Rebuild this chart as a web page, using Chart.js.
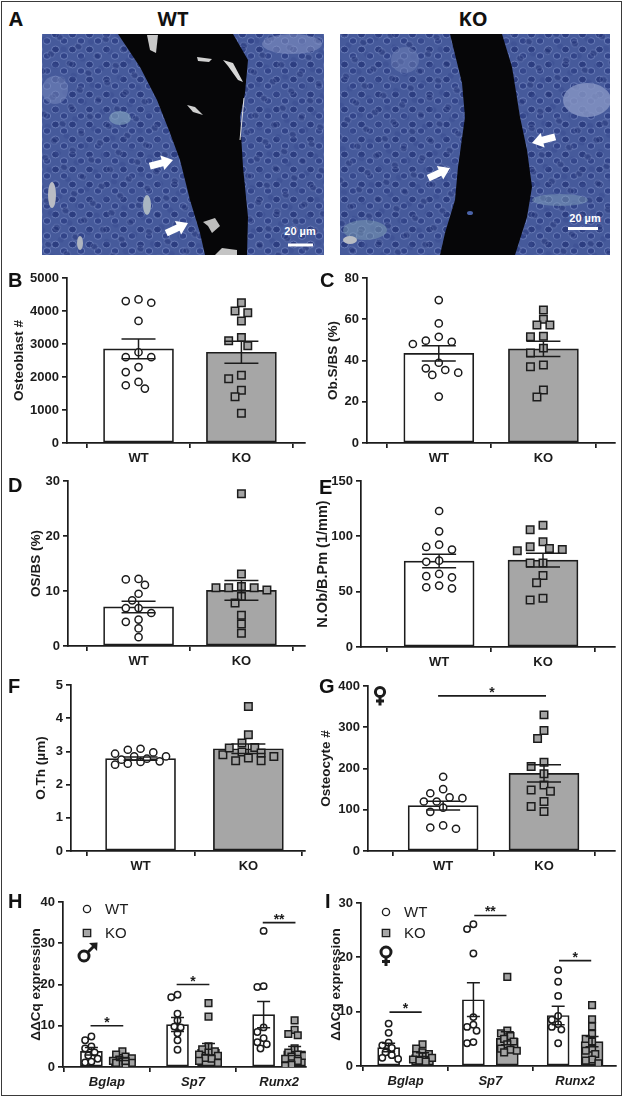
<!DOCTYPE html>
<html>
<head>
<meta charset="utf-8">
<script src="https://cdn.jsdelivr.net/npm/chart.js@4.4.1/dist/chart.umd.min.js"></script>
<style>
  body { margin: 0; background: #fff; }
  #fig { position: relative; width: 624px; height: 1098px; overflow: hidden; }
  #frame { position: absolute; left: 1px; top: 1px; width: 619px; height: 1093px; border: 1.5px solid #3a3a3a; }
  .abs { position: absolute; }
  .letter { position: absolute; font: bold 20px "Liberation Sans", Arial, sans-serif; line-height: 20px; color: #111; }
  .head { position: absolute; font: bold 20px "Open Sans", sans-serif; line-height: 20px; color: #111; }
</style>
</head>
<body>
<div id="fig">
  <div id="frame"></div>
  <div class="head" style="left:9px;top:9px">A</div>
  <div class="head" style="left:173px;top:9px;transform:translateX(-50%)">WT</div>
  <div class="head" style="left:473px;top:9px;transform:translateX(-50%)">KO</div>
  <div id="micro"></div>

  <canvas id="pB" class="abs"></canvas>
  <canvas id="pC" class="abs"></canvas>
  <canvas id="pD" class="abs"></canvas>
  <canvas id="pE" class="abs"></canvas>
  <canvas id="pF" class="abs"></canvas>
  <canvas id="pG" class="abs"></canvas>
  <canvas id="pH" class="abs"></canvas>
  <canvas id="pI" class="abs"></canvas>

  <div class="letter" style="left:8px;top:270px">B</div>
  <div class="letter" style="left:320px;top:270px">C</div>
  <div class="letter" style="left:8px;top:475px">D</div>
  <div class="letter" style="left:319px;top:477px">E</div>
  <div class="letter" style="left:8px;top:676px">F</div>
  <div class="letter" style="left:319px;top:676px">G</div>
  <div class="letter" style="left:8px;top:891px">H</div>
  <div class="letter" style="left:325px;top:891px">I</div>
</div>

<script>
// ---- data ----
const groups = ['WT', 'KO'];
const genes = ['Bglap', 'Sp7', 'Runx2'];

// B: osteoblast number
const obNumWT = [4300, 4350, 4250, 3700, 2750, 2600, 2600, 2300, 2150, 1850, 1750, 1650];
const obNumKO = [4250, 4000, 3950, 3700, 3100, 3200, 2950, 2050, 1950, 1600, 1400, 900];
const obNumMean = [2850, 2750];
const obNumSem = [300, 330];

// C: Ob.S/BS (%)
const obsWT = [69.3, 58, 49.6, 51.5, 48, 49.1, 38.9, 36.2, 34.1, 33, 35.4, 22.5];
const obsKO = [64.5, 60, 57.2, 57.2, 51.5, 51.8, 46, 43.6, 37, 37.8, 25.7, 22.3];
const obsMean = [43.5, 45.6];
const obsSem = [3.7, 3.7];

// D: OS/BS (%)
const osWT = [12.1, 11.1, 12.2, 9.5, 8.3, 6.9, 6.0, 6.9, 4.8, 4.4, 3.2, 1.6];
const osKO = [27.7, 13.1, 10.6, 10.6, 10.6, 10.8, 10.2, 9.0, 7.8, 5.6, 4.0, 2.3];
const osMean = [7.1, 10.1];
const osSem = [1.05, 1.8];

// E: N.Ob/B.Pm (1/mm)
const nobWT = [122.9, 104.5, 90.4, 92.5, 88, 78, 77, 66, 63, 64, 55.5, 54, 53];
const nobKO = [110, 106, 95, 87, 89, 90.5, 88, 76, 76, 64.5, 58, 42.5, 44];
const nobMean = [77.7, 78.5];
const nobSem = [6, 6.2];

// F: O.Th (um)
const othWT = [2.85, 2.63, 3.05, 2.78, 3.08, 2.68, 2.97, 2.75, 2.85, 2.6, 2.93, 2.7];
const othKO = [2.98, 2.72, 3.12, 2.9, 4.35, 3.5, 3.1, 2.8, 3.25, 2.85, 2.95, 2.72];
const othMean = [2.78, 3.08];
const othSem = [0.05, 0.14];

// G: osteocyte number (female)
const ocyWT = [180, 150, 140, 130, 128, 120, 120, 105, 95, 62, 57, 54];
const ocyKO = [330, 292, 273, 215, 205, 187, 160, 145, 148, 120, 108, 96];
const ocyMean = [110, 188];
const ocySem = [10.5, 21];
const ocySig = [376];

// H: qPCR, male
const mBglapWT = [7.4, 6.5, 5, 4.5, 3.5, 2.8, 2, 1.1, 1.3];
const mBglapKO = [3.8, 3, 2.5, 2.1, 1.8, 1.5, 1.3, 1, 0.8, 0.6, 1.5, 1];
const mSp7WT = [17.5, 16.9, 12.9, 11.3, 9.8, 9.6, 8.2, 6.5, 4.2];
const mSp7KO = [15.5, 12.2, 5, 4.3, 3.8, 3.5, 3, 2.7, 2.2, 2, 1.5, 1];
const mRunx2WT = [33, 19.4, 19.6, 9.6, 8.5, 7, 6, 5.5, 4.5];
const mRunx2KO = [11.3, 9, 8, 7.7, 4.5, 3.5, 3, 2.7, 2.5, 2, 1.5, 0.5, 0.3];
const maleWTMean = [3.8, 10.3, 12.7];
const maleWTSem = [0.9, 1.7, 3.2];
const maleKOMean = [1.9, 4.3, 3.9];
const maleKOSem = [0.3, 1.4, 1.1];
const maleSig = [10, 20, 35];
const maleSigLabel = ['*', '*', '**'];

// I: qPCR, female
const fBglapWT = [7.8, 6.1, 4.3, 3.8, 3.3, 2.5, 2, 1.5, 1.3];
const fBglapKO = [4, 3.2, 2.5, 2.2, 2, 1.8, 1.5, 1.2, 1, 0.8];
const fSp7WT = [25.2, 26.1, 20.7, 9, 7.6, 7.2, 6.5, 4.4, 4.2];
const fSp7KO = [16.4, 6.5, 6, 5.5, 5, 4.5, 4, 3.2, 3, 2.8, 2.5];
const fRunx2WT = [17.7, 15.5, 12.9, 9.2, 8.5, 7.7, 7.2, 6.7, 4.2];
const fRunx2KO = [11.2, 8.6, 7.3, 5.9, 5, 4.5, 3.2, 2.8, 2.2, 1.2, 1, 0.5];
const femWTMean = [3.4, 12.2, 9.3];
const femWTSem = [0.8, 3.1, 1.7];
const femKOMean = [2.1, 5.1, 4.5];
const femKOSem = [0.35, 1.2, 0.95];
const femSig = [9.9, 27.7, 19.4];
const femSigLabel = ['*', '**', '*'];

// ---- styling ----
const INK = '#1c1c1c';
const KO_GREY = '#a6a6a6';
const FONT = '"Liberation Sans", Arial, Helvetica, sans-serif';
const LW = 1.7;

Chart.defaults.font.family = FONT;
Chart.defaults.font.size = 13;
Chart.defaults.font.weight = 'bold';
Chart.defaults.color = INK;
Chart.defaults.animation = false;

const WT_STYLE = { fill: '#ffffff', marker: 'circle', pointFill: '#ffffff' };
const KO_STYLE = { fill: KO_GREY, marker: 'rect', pointFill: '#a3a3a3' };

// simple beeswarm: push points sideways (in steps) until they stop overlapping,
// but never further than maxOff; if it gets crowded, take the roomiest spot
function swarm(vals, pxPerUnit, d, step, maxOff) {
  const placed = [], off = [];
  const order = vals.map((v, i) => i).sort((a, b) => vals[b] - vals[a]);
  order.forEach(i => {
    const py = vals[i] * pxPerUnit;
    let best = 0, bestGap = -1;
    for (let k = 0; k < 200; k++) {
      const px = (k % 2 ? -1 : 1) * Math.ceil(k / 2) * step;
      if (Math.abs(px) > maxOff) break;
      const gap = placed.reduce((g, q) => Math.min(g, Math.hypot(q.x - px, q.y - py)), Infinity);
      if (gap >= d) { best = px; break; }
      if (gap > bestGap + 0.5) { bestGap = gap; best = px; }
    }
    placed.push({ x: best, y: py });
    off[i] = best;
  });
  return off;
}

const errorBars = {
  id: 'errorBars',
  afterDatasetsDraw(chart) {
    const ctx = chart.ctx, y = chart.scales.y;
    chart.data.datasets.forEach((ds, di) => {
      if (!ds.sem) return;
      chart.getDatasetMeta(di).data.forEach((bar, k) => {
        const m = ds.data[k].y, s = ds.sem[k], hw = ds.capWidth / 2, x = bar.x;
        const yt = y.getPixelForValue(m + s), yb = y.getPixelForValue(Math.max(0, m - s));
        ctx.save();
        ctx.strokeStyle = INK;
        ctx.lineWidth = 1.5;
        ctx.beginPath();
        ctx.moveTo(x, yt); ctx.lineTo(x, yb);
        ctx.moveTo(x - hw, yt); ctx.lineTo(x + hw, yt);
        ctx.moveTo(x - hw, yb); ctx.lineTo(x + hw, yb);
        ctx.stroke();
        ctx.restore();
      });
    });
  }
};

// sex symbols drawn as strokes so they come out heavy like the original
function female(ctx, cx, cy, r) {
  ctx.lineWidth = 3;
  ctx.beginPath(); ctx.arc(cx, cy, r, 0, Math.PI * 2); ctx.stroke();
  ctx.beginPath();
  ctx.moveTo(cx, cy + r); ctx.lineTo(cx, cy + r + 9);
  ctx.moveTo(cx - 4, cy + r + 4.5); ctx.lineTo(cx + 4, cy + r + 4.5);
  ctx.stroke();
}
function male(ctx, cx, cy, r) {
  const e = r * Math.SQRT1_2, tx = cx + e + 9, ty = cy - e - 9;
  ctx.lineWidth = 3;
  ctx.beginPath(); ctx.arc(cx, cy, r, 0, Math.PI * 2); ctx.stroke();
  ctx.beginPath(); ctx.moveTo(cx + e, cy - e); ctx.lineTo(tx - 2, ty + 2); ctx.stroke();
  ctx.beginPath(); ctx.moveTo(tx + 1, ty - 1); ctx.lineTo(tx - 7.5, ty - 0.5); ctx.lineTo(tx + 0.5, ty + 7.5); ctx.closePath(); ctx.fill();
}

function marks(p) {
  return {
    id: 'marks',
    afterDraw(chart) {
      const { ctx, chartArea: a } = chart;
      const x = chart.scales.x, y = chart.scales.y;
      ctx.save();
      ctx.strokeStyle = INK;
      ctx.fillStyle = INK;
      ctx.lineWidth = LW;
      (p.sig || []).forEach(s => {
        const x1 = x.getPixelForValue(s.from), x2 = x.getPixelForValue(s.to);
        const yy = y.getPixelForValue(s.y);
        ctx.beginPath(); ctx.moveTo(x1, yy); ctx.lineTo(x2, yy); ctx.stroke();
        ctx.font = 'bold 14px ' + FONT;
        ctx.textAlign = 'center';
        ctx.textBaseline = 'alphabetic';
        ctx.fillText(s.label, (x1 + x2) / 2, yy + 1);
      });
      if (p.legend) {
        const lx = a.left + p.legend.dx, ly = a.top + p.legend.dy;
        ctx.lineWidth = 1.3;
        ctx.fillStyle = '#fff';
        ctx.beginPath(); ctx.arc(lx, ly, 3.6, 0, Math.PI * 2); ctx.fill(); ctx.stroke();
        ctx.fillStyle = KO_GREY;
        ctx.beginPath(); ctx.rect(lx - 3.7, ly + p.legend.gap - 3.7, 7.4, 7.4); ctx.fill(); ctx.stroke();
        ctx.fillStyle = INK;
        ctx.font = '15px ' + FONT;
        ctx.textAlign = 'left';
        ctx.textBaseline = 'middle';
        ctx.fillText(groups[0], lx + 18, ly + 1);
        ctx.fillText(groups[1], lx + 18, ly + p.legend.gap + 1);
      }
      if (p.sex) {
        ctx.fillStyle = INK;
        ctx.strokeStyle = INK;
        (p.sex.glyph === 'male' ? male : female)(ctx, a.left + p.sex.dx, a.top + p.sex.dy, p.sex.r);
      }
      ctx.restore();
    }
  };
}

function pair(means, sems, wt, ko) {
  return [
    Object.assign({ at: [0], shift: 0, means: [means[0]], sems: [sems[0]], points: [wt] }, WT_STYLE),
    Object.assign({ at: [1], shift: 0, means: [means[1]], sems: [sems[1]], points: [ko] }, KO_STYLE)
  ];
}

function trio(wtMean, wtSem, koMean, koSem, wtPts, koPts, shift) {
  return [
    Object.assign({ at: [0, 1, 2], shift: -shift, means: wtMean, sems: wtSem, points: wtPts }, WT_STYLE),
    Object.assign({ at: [0, 1, 2], shift: shift, means: koMean, sems: koSem, points: koPts }, KO_STYLE)
  ];
}

function panel(id, p) {
  const cv = document.getElementById(id);
  cv.width = p.w; cv.height = p.h;
  cv.style.left = p.left + 'px'; cv.style.top = p.top + 'px';
  const plotW = p.w - p.yW - p.padR, plotH = p.h - p.padTop - p.xH;
  const unitPx = plotW / (p.xMax - p.xMin);
  const datasets = [];
  p.series.forEach(s => {
    datasets.push({
      type: 'bar', order: 2, grouped: false,
      data: s.means.map((m, k) => ({ x: s.at[k] + s.shift, y: m })),
      sem: s.sems, capWidth: p.cap,
      backgroundColor: s.fill, borderColor: INK, borderWidth: LW, borderSkipped: false,
      barThickness: p.barPx
    });
    s.points.forEach((vals, k) => {
      const off = swarm(vals, plotH / p.yMax, p.dot, p.step, p.maxOff);
      datasets.push({
        type: 'scatter', order: 1,
        data: vals.map((v, j) => ({ x: s.at[k] + s.shift + off[j] / unitPx, y: v })),
        pointStyle: s.marker,
        pointRadius: s.marker === 'rect' ? p.sq : p.rad,
        pointBackgroundColor: s.pointFill,
        pointBorderColor: INK,
        pointBorderWidth: 1.5
      });
    });
  });

  const axisGrid = { display: true, drawOnChartArea: false, drawTicks: true, tickLength: 5, color: INK, lineWidth: LW };
  const axisBorder = { display: true, color: INK, width: LW };

  new Chart(cv, {
    type: 'bar',
    data: { datasets },
    options: {
      responsive: false,
      animation: false,
      layout: { padding: { top: p.padTop, right: p.padR, left: 0, bottom: 0 } },
      plugins: { legend: { display: false }, tooltip: { enabled: false } },
      scales: {
        x: {
          type: 'linear', min: p.xMin, max: p.xMax, offset: false,
          afterBuildTicks: ax => { ax.ticks = p.cats.map((c, i) => ({ value: i })); },
          afterFit: ax => { ax.height = p.xH; },
          grid: axisGrid, border: axisBorder,
          ticks: {
            callback: v => p.cats[v], color: INK, padding: 3, maxRotation: 0, autoSkip: false,
            font: { size: 13, weight: 'bold', style: p.italic ? 'italic' : 'normal' }
          }
        },
        y: {
          min: 0, max: p.yMax,
          afterFit: ax => { ax.width = p.yW; },
          grid: axisGrid, border: axisBorder,
          ticks: { stepSize: p.tick, padding: 3, color: INK, callback: v => String(v), font: { size: 13, weight: 'bold' } },
          title: {
            display: true, text: p.yTitle, color: INK,
            padding: { top: p.titlePad, bottom: 0 },
            font: { size: p.titleSize || 13.5, weight: 'bold' }
          }
        }
      }
    },
    plugins: [errorBars, marks(p)]
  });
}

const wide = { barPx: 70, cap: 34, dot: 8.6, step: 6.5, maxOff: 30, rad: 3.6, sq: 5.3, cats: groups };
const narrow = { barPx: 22, cap: 13, dot: 6.2, step: 3.2, maxOff: 12, rad: 3.2, sq: 4.7, cats: genes, italic: true };

panel('pB', Object.assign({}, wide, {
  left: 0, top: 262, w: 312, h: 210, padTop: 16, yW: 67, xH: 29, padR: 2,
  xMin: -0.695, xMax: 1.62, yMax: 5000, tick: 1000, yTitle: 'Osteoblast #', titlePad: 11,
  series: pair(obNumMean, obNumSem, obNumWT, obNumKO)
}));
panel('pC', Object.assign({}, wide, {
  left: 312, top: 262, w: 310, h: 210, padTop: 16, yW: 55, xH: 29, padR: 6,
  xMin: -0.686, xMax: 1.686, yMax: 80, tick: 20, yTitle: 'Ob.S/BS (%)', titlePad: 13,
  series: pair(obsMean, obsSem, obsWT, obsKO)
}));
panel('pD', Object.assign({}, wide, {
  left: 0, top: 468, w: 312, h: 208, padTop: 13, yW: 68, xH: 30, padR: 2,
  xMin: -0.686, xMax: 1.62, yMax: 30, tick: 10, yTitle: 'OS/BS (%)', titlePad: 28,
  series: pair(osMean, osSem, osWT, osKO)
}));
panel('pE', Object.assign({}, wide, {
  left: 312, top: 468, w: 310, h: 208, padTop: 13, yW: 49, xH: 29, padR: 4,
  xMin: -0.752, xMax: 1.695, yMax: 150, tick: 50, yTitle: 'N.Ob/B.Pm (1/mm)', titlePad: 2, titleSize: 14.5,
  series: pair(nobMean, nobSem, nobWT, nobKO)
}));
panel('pF', Object.assign({}, wide, {
  left: 0, top: 672, w: 312, h: 208, padTop: 13, yW: 71, xH: 29, padR: 2,
  xMin: -0.645, xMax: 1.527, yMax: 5, tick: 1, yTitle: 'O.Th (µm)', titlePad: 33,
  series: pair(othMean, othSem, othWT, othKO)
}));
panel('pG', Object.assign({}, wide, {
  left: 312, top: 672, w: 310, h: 208, padTop: 14, yW: 56, xH: 29, padR: 4,
  xMin: -0.745, xMax: 1.706, yMax: 400, tick: 100, yTitle: 'Osteocyte #', titlePad: 6,
  series: pair(ocyMean, ocySem, ocyWT, ocyKO),
  sig: [{ from: -0.05, to: 1.02, y: ocySig[0], label: '*' }],
  sex: { glyph: 'female', dx: 12, dy: 6, r: 4.6 }
}));
panel('pH', Object.assign({}, narrow, {
  left: 0, top: 890, w: 312, h: 205, padTop: 12, yW: 63, xH: 28, padR: 2,
  xMin: -0.51, xMax: 2.31, yMax: 40, tick: 10, yTitle: 'ΔΔCq expression', titlePad: 28,
  series: trio(maleWTMean, maleWTSem, maleKOMean, maleKOSem,
    [mBglapWT, mSp7WT, mRunx2WT], [mBglapKO, mSp7KO, mRunx2KO], 0.18),
  sig: maleSig.map((v, i) => ({ from: i - 0.19, to: i + 0.19, y: v, label: maleSigLabel[i] })),
  legend: { dx: 24, dy: 7, gap: 24 },
  sex: { glyph: 'male', dx: 21, dy: 54, r: 5 }
}));
panel('pI', Object.assign({}, narrow, {
  left: 312, top: 890, w: 310, h: 205, padTop: 13, yW: 49, xH: 29, padR: 4,
  xMin: -0.526, xMax: 2.48, yMax: 30, tick: 10, yTitle: 'ΔΔCq expression', titlePad: 16,
  series: trio(femWTMean, femWTSem, femKOMean, femKOSem,
    [fBglapWT, fSp7WT, fRunx2WT], [fBglapKO, fSp7KO, fRunx2KO], 0.2),
  sig: femSig.map((v, i) => ({ from: i - 0.19, to: i + 0.19, y: v, label: femSigLabel[i] })),
  legend: { dx: 25, dy: 9, gap: 21 },
  sex: { glyph: 'female', dx: 25, dy: 49, r: 5 }
}));

// ---- panel A: stylised micrographs (decoration, not data) ----
function arrow(tx, ty, ang) {
  const pts = [[0, 0], [-11, -7.5], [-11, -3.5], [-24, -3.5], [-24, 3.5], [-11, 3.5], [-11, 7.5]];
  const r = ang * Math.PI / 180, c = Math.cos(r), s = Math.sin(r);
  return '<polygon fill="#fff" points="' + pts.map(([x, y]) =>
    (tx + x * c - y * s).toFixed(1) + ',' + (ty + x * s + y * c).toFixed(1)).join(' ') + '"/>';
}

function micrograph(x0, x1, band, extras) {
  const w = x1 - x0, y0 = 34, h = 221;
  return '<svg class="abs" style="left:' + x0 + 'px;top:' + y0 + 'px" width="' + w + '" height="' + h +
    '" viewBox="' + x0 + ' ' + y0 + ' ' + w + ' ' + h + '">' +
    '<rect x="' + x0 + '" y="' + y0 + '" width="' + w + '" height="' + h + '" fill="#465a9b"/>' +
    '<rect x="' + x0 + '" y="' + y0 + '" width="' + w + '" height="' + h + '" fill="url(#cellsA)"/>' +
    '<rect x="' + x0 + '" y="' + y0 + '" width="' + w + '" height="' + h + '" fill="url(#cellsB)" opacity="0.5"/>' +
    extras.under +
    '<polygon fill="#060608" points="' + band + '"/>' +
    extras.over + '</svg>';
}

const defs = '<svg width="0" height="0" style="position:absolute"><defs>' +
  '<pattern id="cellsA" width="17" height="15" patternUnits="userSpaceOnUse">' +
  '<ellipse cx="4.5" cy="4.5" rx="3.9" ry="3.4" fill="#2c3d80" stroke="#6c7fba" stroke-width="0.9"/>' +
  '<ellipse cx="13" cy="11" rx="3.7" ry="3.3" fill="#324489" stroke="#6c7fba" stroke-width="0.9"/></pattern>' +
  '<pattern id="cellsB" width="21" height="19" patternUnits="userSpaceOnUse" patternTransform="rotate(27)">' +
  '<ellipse cx="7" cy="6" rx="3.8" ry="3.3" fill="#243476" stroke="#7d8fc6" stroke-width="0.8"/>' +
  '<ellipse cx="16" cy="15" rx="3.1" ry="2.8" fill="#394c90"/></pattern>' +
  '</defs></svg>';

const wtBand = '118,34 140,67 157,100 170,133 180,160 190,200 200,233 205,255 247,255 248,217 243,167 240,117 245,93 248,60 233,34';
const koBand = '450,34 462,83 465,117 458,167 455,200 445,233 440,255 515,255 527,217 532,187 527,150 520,117 512,67 502,34';

const wtExtras = {
  under: '<ellipse cx="55" cy="90" rx="13" ry="14" fill="#7a8cc0" opacity="0.5"/>' +
    '<ellipse cx="120" cy="118" rx="11" ry="7" fill="#86a7bf" opacity="0.6"/>' +
    '<ellipse cx="292" cy="44" rx="30" ry="10" fill="#8a98c8" opacity="0.5"/>' +
    '<ellipse cx="52" cy="195" rx="4" ry="13" fill="#b9bcc4"/>' +
    '<ellipse cx="147" cy="205" rx="4" ry="10" fill="#aab7c2"/>' +
    '<ellipse cx="80" cy="243" rx="3" ry="7" fill="#aeb4c0"/>',
  over: '<polygon fill="#c8c8c8" points="147,35 158,35 156,53 150,50"/>' +
    '<polygon fill="#d0d0d0" points="197,57 212,59 209,62 198,61"/>' +
    '<polygon fill="#d6d6d6" points="223,60 233,63 243,82 238,80 228,66"/>' +
    '<polygon fill="#cfcfcf" points="187,105 195,107 203,115 193,112"/>' +
    '<polygon fill="#bdbdbd" points="203,222 215,218 220,226 212,233 208,226"/>' +
    '<polygon fill="#c4c4c4" points="215,255 222,248 237,250 237,255"/>' +
    '<line x1="244" y1="98" x2="240" y2="140" stroke="#dddddd" stroke-width="1"/>' +
    arrow(173, 160, -15) + arrow(188, 223, -25) +
    '<text x="300" y="235" fill="#fff" font-family="Liberation Sans, Arial, sans-serif" font-weight="bold" font-size="11" text-anchor="middle">20 µm</text>' +
    '<rect x="288" y="243.5" width="25" height="3" fill="#fff"/>'
};
const koExtras = {
  under: '<ellipse cx="587" cy="100" rx="24" ry="17" fill="#8796c4" opacity="0.8"/>' +
    '<ellipse cx="405" cy="60" rx="14" ry="13" fill="#6f82b8" opacity="0.5"/>' +
    '<ellipse cx="365" cy="230" rx="22" ry="10" fill="#7fa0b6" opacity="0.5"/>' +
    '<ellipse cx="560" cy="200" rx="28" ry="6" fill="#86a4bd" opacity="0.45"/>' +
    '<ellipse cx="350" cy="240" rx="7" ry="4" fill="#b8bcc4"/>',
  over: '<ellipse cx="470" cy="213" rx="3" ry="2" fill="#4a63a8"/>' +
    arrow(450, 168, -25) + arrow(532, 143, 165) +
    '<text x="585" y="222" fill="#fff" font-family="Liberation Sans, Arial, sans-serif" font-weight="bold" font-size="11" text-anchor="middle">20 µm</text>' +
    '<rect x="568" y="227" width="30" height="3" fill="#fff"/>'
};

document.getElementById('micro').innerHTML = defs +
  micrograph(42, 324, wtBand, wtExtras) + micrograph(340, 610, koBand, koExtras);
</script>
</body>
</html>
